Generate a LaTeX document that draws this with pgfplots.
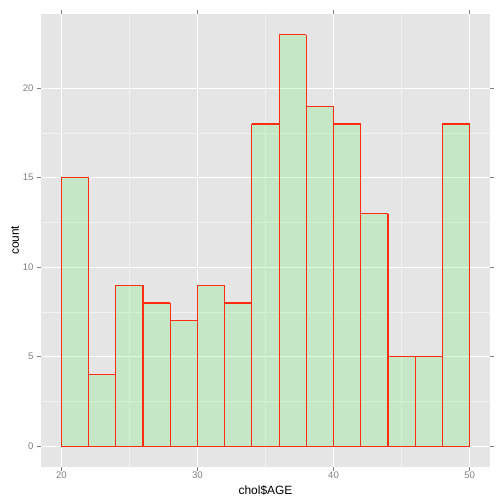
\documentclass[border=0pt]{standalone}
\usepackage{fontspec}
\setmainfont{Liberation Sans}
\usepackage{pgfplots}
\pgfplotsset{compat=1.18}

\definecolor{panelgrey}{HTML}{E5E5E5}
\definecolor{minorgrey}{HTML}{F2F2F2}
\definecolor{ticktext}{HTML}{7F7F7F}
\definecolor{barfill}{RGB}{72,242,70}
\definecolor{barline}{RGB}{255,45,15}

\begin{document}
\begin{tikzpicture}
\useasboundingbox (0,0) rectangle (504bp,504bp);
\begin{axis}[
    at={(41bp,37.3bp)}, anchor=south west,
    scale only axis,
    width=449bp, height=452.7bp,
    xmin=18.5, xmax=51.5,
    ymin=-1.15, ymax=24.15,
    xtick={20,30,40,50},
    ytick={0,5,10,15,20},
    minor x tick num=1,
    minor y tick num=1,
    grid=both,
    major grid style={white, line width=1.1bp},
    minor grid style={minorgrey, line width=0.55bp},
    axis background/.style={fill=panelgrey},
    axis line style={draw=none},
    tick align=outside,
    major tick length=4bp,
    minor tick length=0pt,
    tick style={ticktext, line width=0.6bp},
    tick label style={font=\fontsize{9.6}{10}\selectfont, text=ticktext},
    /pgf/number format/assume math mode=true,
    xticklabel style={yshift=2bp},
    xlabel={chol\$AGE},
    ylabel={count},
    label style={font=\fontsize{12}{14}\selectfont},
    xlabel style={yshift=0bp},
    ylabel style={yshift=-3bp},
]
% translucent fills
\addplot[
    ybar interval,
    draw=none,
    fill=barfill, fill opacity=0.2,
] coordinates {
    (20,15) (22,4) (24,9) (26,8) (28,7) (30,9) (32,8) (34,18)
    (36,23) (38,19) (40,18) (42,13) (44,5) (46,5) (48,18) (50,18)
};
% bar tops
\addplot[jump mark left, draw=barline, line width=1.1bp, mark=none] coordinates {
    (20,15) (22,4) (24,9) (26,8) (28,7) (30,9) (32,8) (34,18)
    (36,23) (38,19) (40,18) (42,13) (44,5) (46,5) (48,18) (50,18)
};
% bar sides: each edge as high as the taller neighbour
\addplot[ycomb, draw=barline, line width=1.1bp, mark=none] coordinates {
    (20,15) (22,15) (24,9) (26,9) (28,8) (30,9) (32,9) (34,18)
    (36,23) (38,23) (40,19) (42,18) (44,13) (46,5) (48,18) (50,18)
};
% baseline
\addplot[draw=barline, line width=1.1bp, mark=none] coordinates {(20,0) (50,0)};
\end{axis}
\end{tikzpicture}
\end{document}
